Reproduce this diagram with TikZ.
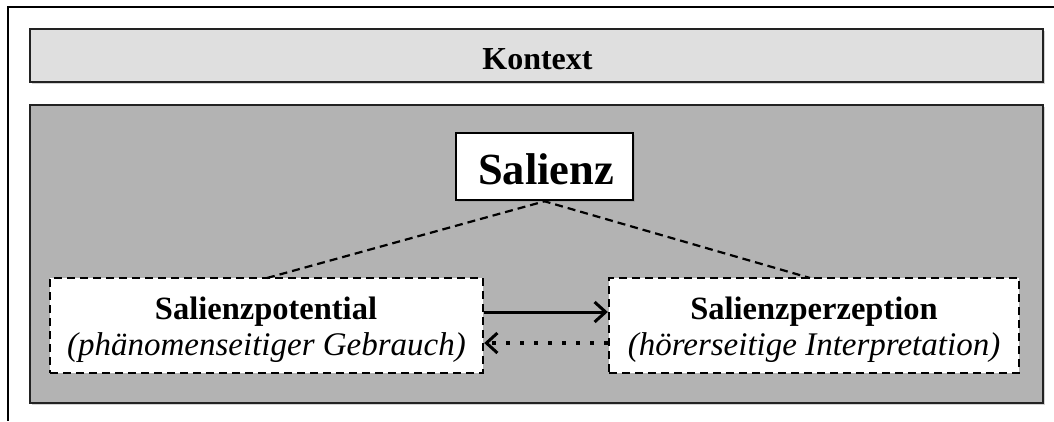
\documentclass[tikz,border=0pt]{standalone}
\usepackage{fontspec}
\setmainfont{Liberation Serif}
\usetikzlibrary{arrows.meta,shadows}
\definecolor{kontextgray}{HTML}{DFDFDF}
\definecolor{areagray}{HTML}{B3B3B3}
\definecolor{edgegray}{HTML}{222222}
\begin{document}
\begin{tikzpicture}[x=1pt,y=-1pt,
  band/.style={draw=edgegray,line width=2.6pt,rectangle,inner sep=0pt,
    drop shadow={opacity=0.35,shadow xshift=1.5pt,shadow yshift=-1.5pt}},
  dashbox/.style={draw=black,fill=white,line width=2.4pt,rectangle,inner sep=0pt,
    dash pattern=on 8pt off 5pt},
  lbl/.style={inner sep=0pt,anchor=base},
  conn/.style={dash pattern=on 8pt off 5pt,line width=2.2pt},
]
\useasboundingbox (0,0) rectangle (1054,421);
\fill[white] (0,0) rectangle (1054,421);
% outer frame (only top and left visible)
\coordinate (frameTR) at (1054,7);
\coordinate (frameTL) at (8,7);
\coordinate (frameBL) at (8,421);
\draw[line width=2.6pt] (frameTR) -- (frameTL) -- (frameBL);

\node[band,fill=kontextgray,minimum width=1013pt,minimum height=53pt] (kontext) at (536.5,55.5) {};
\node[lbl,font=\bfseries\fontsize{32}{36}\selectfont] (kontexttxt) at (537.5,69) {Kontext};

\node[band,fill=areagray,minimum width=1013pt,minimum height=298pt] (area) at (536.5,254) {};

\node[draw=black,fill=white,line width=2.6pt,rectangle,inner sep=0pt,minimum width=177pt,minimum height=67pt,
  drop shadow={opacity=0.3,shadow xshift=1.5pt,shadow yshift=-1.5pt}] (salienz) at (544.5,166.5) {};
\node[lbl,font=\bfseries\fontsize{44.5}{50}\selectfont] (salienztxt) at (546,184) {Salienz};

\node[dashbox,minimum width=433pt,minimum height=95pt] (pot) at (266.5,325.5) {};
\node[lbl,font=\bfseries\fontsize{32.5}{36}\selectfont] (pottxt) at (266,319) {Salienzpotential};
\node[lbl,font=\itshape\fontsize{33}{36}\selectfont] (potsub) at (266.5,355) {(phänomenseitiger Gebrauch)};

\node[dashbox,minimum width=410pt,minimum height=95pt] (per) at (814,325.5) {};
\node[lbl,font=\bfseries\fontsize{32.5}{36}\selectfont] (pertxt) at (814,319) {Salienzperzeption};
\node[lbl,font=\itshape\fontsize{33}{36}\selectfont] (persub) at (814,355) {(hörerseitige Interpretation)};

% dashed connectors
\coordinate (potTop) at (267,278);
\coordinate (perTop) at (810,278);
\draw[conn] (potTop) -- (salienz.south) -- (perTop);

% arrows between boxes
\draw[line width=3pt,-{Straight Barb[length=11pt,width=20pt,line width=3pt]}] (pot.east |- 0,312) -- (per.west |- 0,312);
\draw[line width=4pt,dash pattern=on 4pt off 10pt,-{Straight Barb[length=11pt,width=20pt,line width=3pt]}] (per.west |- 0,343) -- (pot.east |- 0,343);
\end{tikzpicture}
\end{document}
